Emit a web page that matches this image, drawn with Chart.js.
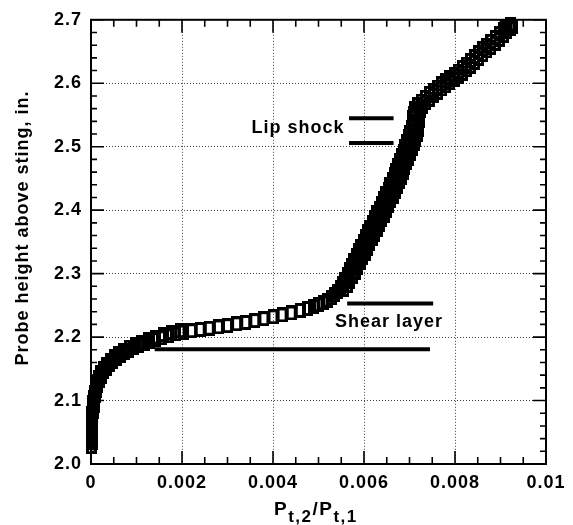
<!DOCTYPE html>
<html>
<head>
<meta charset="utf-8">
<script src="https://cdn.jsdelivr.net/npm/chart.js@4.4.1/dist/chart.umd.min.js"></script>
<style>
  html, body { margin: 0; padding: 0; background: #fff; }
  #wrap { width: 573px; height: 525px; }
</style>
</head>
<body>
<div id="wrap"><canvas id="probeChart" width="573" height="525"></canvas></div>
<script>
/* ---- data ---- */

// sweep A : Pt2/Pt1 and probe height (in.)
const sweepARatio = [
  0.00001, 0.00003, 0.00002, 0.00003, 0.00004, 0.00004, 0.00005, 0.00007, 0.00008, 0.0001, 0.00012,
  0.00015, 0.00018, 0.00022, 0.00027, 0.00033, 0.0004, 0.00047, 0.00055, 0.00064, 0.00073,
  0.00083, 0.00094, 0.00105, 0.00117, 0.00129, 0.00142, 0.00156, 0.0017, 0.00186, 0.00203,
  0.00221, 0.0024, 0.0026, 0.0028, 0.003, 0.0032, 0.0034, 0.0036, 0.0038, 0.004,
  0.0042, 0.0044, 0.0046, 0.00475, 0.0049, 0.005, 0.0051, 0.0052, 0.00528, 0.00535,
  0.00542, 0.00548, 0.00553, 0.00558, 0.00563, 0.00568, 0.00573, 0.00578, 0.00583, 0.00588,
  0.00593, 0.00598, 0.00603, 0.00608, 0.00613, 0.00618, 0.00623, 0.00628, 0.00633, 0.00638,
  0.00643, 0.00648, 0.00653, 0.00657, 0.00662, 0.00666, 0.0067, 0.00674, 0.00678, 0.00682,
  0.00686, 0.0069, 0.00694, 0.00698, 0.00701, 0.00704, 0.00706, 0.00707, 0.00708, 0.00711,
  0.00718, 0.00726, 0.00735, 0.00744, 0.00753, 0.00762, 0.00771, 0.0078, 0.00789, 0.00798,
  0.00807, 0.00816, 0.00825, 0.00834, 0.00843, 0.00852, 0.00861, 0.0087, 0.00879, 0.00888,
  0.00897, 0.00906, 0.00914, 0.00921
];
const sweepAHeight = [
  2.027, 2.034, 2.044, 2.054, 2.064, 2.074, 2.083, 2.092, 2.100, 2.108, 2.116,
  2.124, 2.131, 2.138, 2.145, 2.151, 2.157, 2.162, 2.167, 2.171, 2.175,
  2.179, 2.183, 2.187, 2.190, 2.193, 2.196, 2.199, 2.202, 2.205, 2.208,
  2.210, 2.212, 2.214, 2.216, 2.218, 2.221, 2.223, 2.226, 2.229, 2.232,
  2.235, 2.238, 2.242, 2.245, 2.248, 2.251, 2.254, 2.258, 2.262, 2.267,
  2.272, 2.278, 2.284, 2.291, 2.298, 2.306, 2.313, 2.321, 2.328, 2.336,
  2.343, 2.351, 2.358, 2.366, 2.373, 2.381, 2.388, 2.396, 2.403, 2.411,
  2.418, 2.426, 2.433, 2.441, 2.448, 2.456, 2.463, 2.471, 2.478, 2.486,
  2.493, 2.501, 2.508, 2.516, 2.523, 2.531, 2.538, 2.546, 2.553, 2.560,
  2.566, 2.572, 2.578, 2.584, 2.589, 2.594, 2.599, 2.604, 2.609, 2.614,
  2.619, 2.625, 2.630, 2.636, 2.642, 2.648, 2.654, 2.660, 2.666, 2.672,
  2.678, 2.684, 2.689, 2.693
];

// sweep B : second pass, same probe
const sweepBRatio = [
  0.00001, 0.0, 0.00001, 0.00002, 0.00002, 0.00003, 0.00004, 0.00005, 0.00007, 0.00009,
  0.00012, 0.00016, 0.00021, 0.00027, 0.00034, 0.00042, 0.00051, 0.00061, 0.00072, 0.00084,
  0.00097, 0.00111, 0.00126, 0.00142, 0.00159, 0.00177, 0.00196,
  0.00556, 0.00563, 0.00569, 0.00575, 0.00581, 0.00586, 0.00592, 0.00597, 0.00603, 0.00608,
  0.00613, 0.00618, 0.00624, 0.00629, 0.00634, 0.00639, 0.00644, 0.00649, 0.00654, 0.00659,
  0.00664, 0.00669, 0.00673, 0.00678, 0.00682, 0.00686, 0.0069, 0.00694, 0.00698, 0.00702,
  0.00706, 0.0071, 0.00714, 0.00717, 0.00719, 0.0072, 0.00721, 0.00722, 0.00724, 0.00729,
  0.00736, 0.00744, 0.00753, 0.00762, 0.00771, 0.0078, 0.00789, 0.00798, 0.00807, 0.00816,
  0.00825, 0.00834, 0.00843, 0.00852, 0.00861, 0.0087, 0.00879, 0.00888, 0.00897, 0.00906,
  0.00914, 0.00921, 0.00927
];
const sweepBHeight = [
  2.039, 2.049, 2.059, 2.069, 2.079, 2.088, 2.097, 2.105, 2.113, 2.121,
  2.129, 2.137, 2.144, 2.151, 2.157, 2.163, 2.169, 2.174, 2.179, 2.184,
  2.188, 2.192, 2.196, 2.200, 2.204, 2.207, 2.210,
  2.275, 2.281, 2.288, 2.295, 2.302, 2.310, 2.317, 2.325, 2.332, 2.340,
  2.347, 2.355, 2.362, 2.370, 2.377, 2.385, 2.392, 2.400, 2.407, 2.415,
  2.422, 2.430, 2.437, 2.445, 2.452, 2.460, 2.467, 2.475, 2.482, 2.490,
  2.497, 2.505, 2.512, 2.520, 2.527, 2.535, 2.542, 2.550, 2.557, 2.563,
  2.569, 2.575, 2.581, 2.586, 2.591, 2.596, 2.601, 2.606, 2.611, 2.616,
  2.621, 2.627, 2.633, 2.639, 2.645, 2.651, 2.657, 2.663, 2.669, 2.675,
  2.681, 2.686, 2.690
];

// marker lines for the flow features (x range and height)
const lipShockUpper = { x: [0.00567, 0.00665], y: 2.545 };
const lipShockLower = { x: [0.00567, 0.00665], y: 2.506 };
const shearUpper = { x: [0.00563, 0.00752], y: 2.253 };
const shearLower = { x: [0.0014, 0.00745], y: 2.181 };

// feature labels
const featureLabels = [
  { text: 'Lip shock', x: 0.00557, y: 2.529, align: 'right' },
  { text: 'Shear layer', x: 0.00655, y: 2.223, align: 'center' }
];

// axes
const xTickValues = [0, 0.002, 0.004, 0.006, 0.008, 0.01];
const xTickLabels = ['0', '0.002', '0.004', '0.006', '0.008', '0.01'];
const yTickValues = [2.0, 2.1, 2.2, 2.3, 2.4, 2.5, 2.6, 2.7];
const yTickLabels = ['2.0', '2.1', '2.2', '2.3', '2.4', '2.5', '2.6', '2.7'];
const xMinorStep = 0.0005;
const yMinorStep = 0.02;
const yTitle = 'Probe height above sting, in.';

/* ---- helpers ---- */

const FONT = '"Liberation Sans", Arial, Helvetica, sans-serif';

function toPoints(xs, ys) {
  return xs.map((x, i) => ({ x: x, y: ys[i] }));
}

function hLine(seg) {
  return [{ x: seg.x[0], y: seg.y }, { x: seg.x[1], y: seg.y }];
}

// hollow, slightly tall square like the original plotter symbol
function makeSquareMarker() {
  const c = document.createElement('canvas');
  c.width = 11;
  c.height = 15;
  const g = c.getContext('2d');
  g.strokeStyle = '#000';
  g.lineWidth = 3;
  g.strokeRect(1.5, 1.5, 8, 12);
  return c;
}

const squareMarker = makeSquareMarker();

function lineDataset(seg) {
  return {
    data: hLine(seg),
    showLine: true,
    borderColor: '#000',
    borderWidth: 4,
    pointRadius: 0,
    borderCapStyle: 'butt'
  };
}

function pointDataset(points) {
  return {
    data: points,
    pointStyle: squareMarker,
    pointRadius: 6,
    showLine: false,
    clip: false
  };
}

/* ---- frame, inward ticks, labels and titles ---- */

const plotDecor = {
  id: 'plotDecor',
  beforeDraw(chart) {
    const ctx = chart.ctx;
    ctx.save();
    ctx.fillStyle = '#fff';
    ctx.fillRect(0, 0, chart.width, chart.height);
    ctx.restore();
    ctx.letterSpacing = '1px';
  },
  afterDraw(chart) {
    const ctx = chart.ctx;
    const a = chart.chartArea;
    const xs = chart.scales.x;
    const ys = chart.scales.y;

    ctx.save();
    ctx.strokeStyle = '#000';
    ctx.lineWidth = 2;
    ctx.strokeRect(a.left, a.top, a.right - a.left, a.bottom - a.top);

    ctx.lineWidth = 1.6;
    ctx.beginPath();
    const nx = Math.round((xs.max - xs.min) / xMinorStep);
    for (let i = 0; i <= nx; i++) {
      const px = xs.getPixelForValue(xs.min + i * xMinorStep);
      const len = i % 4 === 0 ? 13 : 7;
      ctx.moveTo(px, a.bottom);
      ctx.lineTo(px, a.bottom - len);
      ctx.moveTo(px, a.top);
      ctx.lineTo(px, a.top + len);
    }
    const ny = Math.round((ys.max - ys.min) / yMinorStep);
    for (let i = 0; i <= ny; i++) {
      const py = ys.getPixelForValue(ys.min + i * yMinorStep);
      const len = i % 5 === 0 ? 13 : 6;
      ctx.moveTo(a.left, py);
      ctx.lineTo(a.left + len, py);
      ctx.moveTo(a.right, py);
      ctx.lineTo(a.right - len, py);
    }
    ctx.stroke();

    // feature labels
    ctx.fillStyle = '#000';
    ctx.font = 'bold 18px ' + FONT;
    ctx.textBaseline = 'middle';
    featureLabels.forEach(l => {
      ctx.textAlign = l.align;
      ctx.fillText(l.text, xs.getPixelForValue(l.x), ys.getPixelForValue(l.y));
    });

    // y title
    ctx.save();
    ctx.translate(23, 228);
    ctx.rotate(-Math.PI / 2);
    ctx.textAlign = 'center';
    ctx.font = 'bold 18px ' + FONT;
    ctx.fillText(yTitle, 0, 0);
    ctx.restore();

    // x title: P_{t,2}/P_{t,1}
    ctx.textAlign = 'left';
    ctx.textBaseline = 'alphabetic';
    ctx.letterSpacing = '1.5px';
    const big = 'bold 19px ' + FONT;
    const small = 'bold 17px ' + FONT;
    const parts = [
      { t: 'P', f: big, dy: 0 },
      { t: 't,2', f: small, dy: 7 },
      { t: '/', f: big, dy: 0 },
      { t: 'P', f: big, dy: 0 },
      { t: 't,1', f: small, dy: 7 }
    ];
    let cx = 274;
    const base = 515;
    parts.forEach(p => {
      ctx.font = p.f;
      ctx.fillText(p.t, cx, base + p.dy);
      cx += ctx.measureText(p.t).width;
    });
    ctx.restore();
  }
};

/* ---- chart ---- */

new Chart(document.getElementById('probeChart'), {
  type: 'scatter',
  data: {
    datasets: [
      pointDataset(toPoints(sweepARatio, sweepAHeight)),
      pointDataset(toPoints(sweepBRatio, sweepBHeight)),
      lineDataset(lipShockUpper),
      lineDataset(lipShockLower),
      lineDataset(shearUpper),
      lineDataset(shearLower)
    ]
  },
  options: {
    responsive: false,
    animation: false,
    layout: { padding: { top: 16, right: 27, left: 0, bottom: 0 } },
    plugins: {
      legend: { display: false },
      tooltip: { enabled: false }
    },
    scales: {
      x: {
        type: 'linear',
        min: 0,
        max: 0.01,
        afterFit: s => { s.height = 61; },
        afterBuildTicks: s => { s.ticks = xTickValues.map(v => ({ value: v })); },
        ticks: {
          color: '#000',
          padding: 8,
          maxRotation: 0,
          font: { family: FONT, size: 18, weight: 'bold' },
          callback: (v, i) => xTickLabels[i]
        },
        grid: { color: 'rgba(0,0,0,0.75)', lineWidth: 1, drawTicks: false },
        border: { display: false, dash: [1, 2] }
      },
      y: {
        type: 'linear',
        min: 2.0,
        max: 2.7,
        afterFit: s => { s.width = 91; },
        afterBuildTicks: s => { s.ticks = yTickValues.map(v => ({ value: v })); },
        ticks: {
          color: '#000',
          padding: 9,
          font: { family: FONT, size: 18, weight: 'bold' },
          callback: (v, i) => yTickLabels[i]
        },
        grid: { color: 'rgba(0,0,0,0.75)', lineWidth: 1, drawTicks: false },
        border: { display: false, dash: [1, 2] }
      }
    }
  },
  plugins: [plotDecor]
});
</script>
</body>
</html>
